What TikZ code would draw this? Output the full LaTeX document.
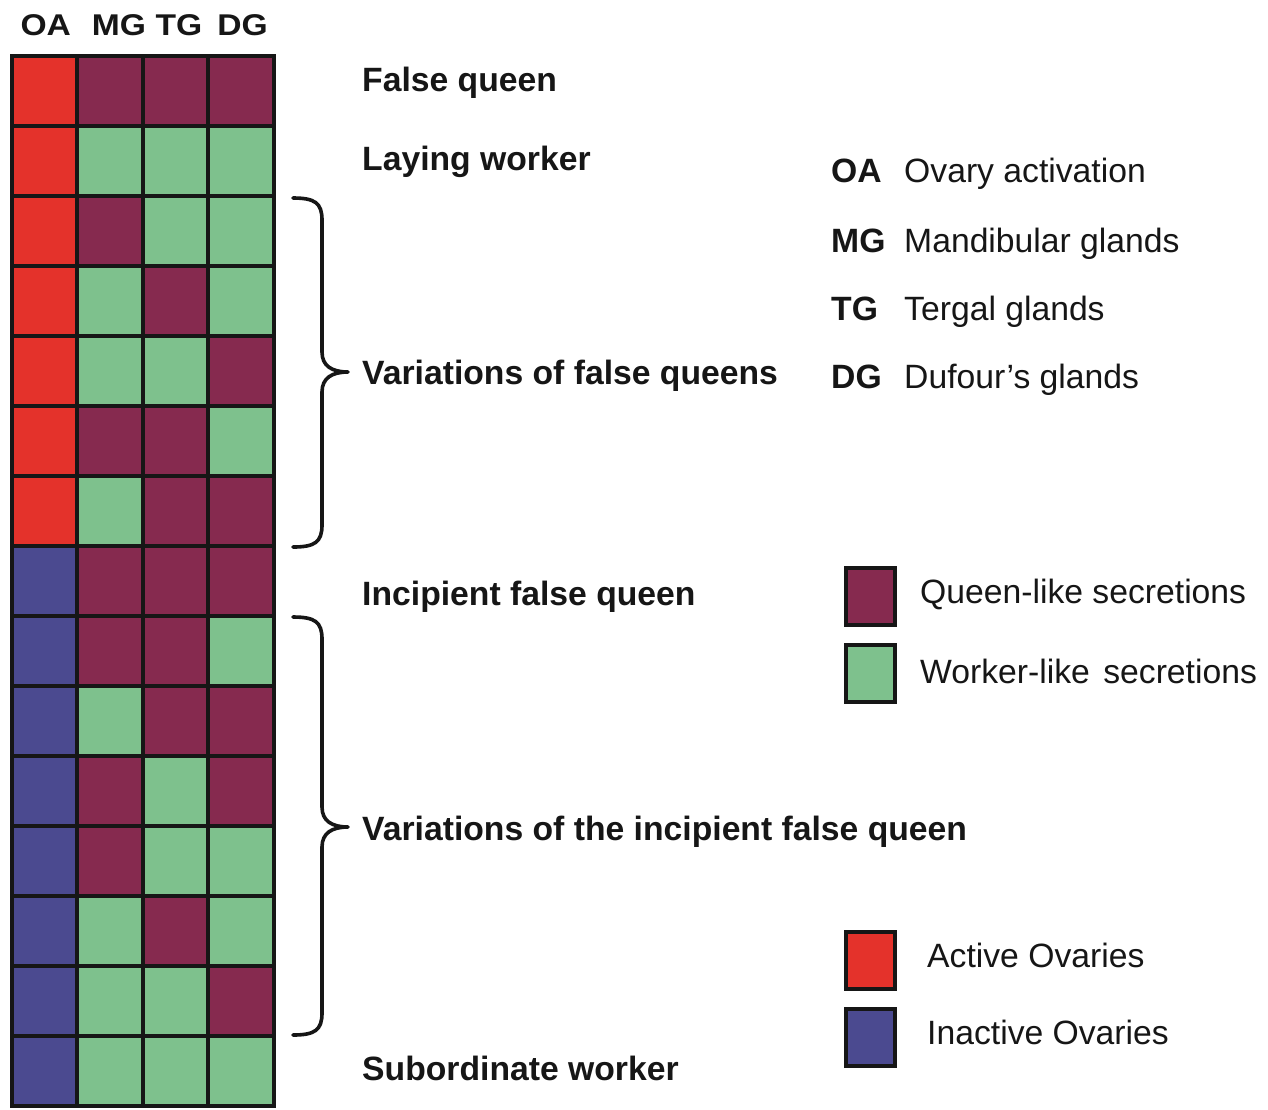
\documentclass[tikz,border=0pt]{standalone}
\usepackage{fontspec}
\usepackage{graphicx}
\setmainfont{Liberation Sans}
\definecolor{colR}{HTML}{E4322B}
\definecolor{colQ}{HTML}{862A4F}
\definecolor{colW}{HTML}{7EC18D}
\definecolor{colB}{HTML}{4B4A90}
\definecolor{ink}{HTML}{161616}
\newcommand{\hdrtext}[1]{\scalebox{1.12}[1]{#1}}
\begin{document}
\begin{tikzpicture}[x=1pt,y=-1pt,
  cell/.style={draw=ink, line width=4pt, minimum width=65.5pt, minimum height=70pt, inner sep=0pt, outer sep=0pt},
  legbox/.style={draw=ink, line width=4pt, minimum width=49pt, minimum height=57pt, inner sep=0pt, outer sep=0pt},
  lbl/.style={font=\fontsize{33.7}{40}\selectfont\bfseries, text=ink, inner sep=0pt, anchor=base west},
  hdr/.style={font=\fontsize{30}{36}\selectfont\bfseries, text=ink, inner sep=0pt, anchor=base},
  legtxt/.style={font=\fontsize{33.7}{40}\selectfont, text=ink, inner sep=0pt, anchor=base west},
  brace/.style={draw=ink, line width=3.6pt, line cap=round, line join=round}]
\useasboundingbox (0,0) rectangle (1268,1109);
\fill[white] (0,0) rectangle (1268,1109);

% headers
\node[hdr] (hOA) at (45.7,35.5) {\hdrtext{OA}};
\node[hdr] (hMG) at (119,35.5) {\hdrtext{MG}};
\node[hdr] (hTG) at (179,35.5) {\hdrtext{TG}};
\node[hdr] (hDG) at (242.5,35.5) {\hdrtext{DG}};

% grid
\foreach \row [count=\i from 0] in {{R,Q,Q,Q},{R,W,W,W},{R,Q,W,W},{R,W,Q,W},{R,W,W,Q},{R,Q,Q,W},{R,W,Q,Q},{B,Q,Q,Q},{B,Q,Q,W},{B,W,Q,Q},{B,Q,W,Q},{B,Q,W,W},{B,W,Q,W},{B,W,W,Q},{B,W,W,W}} {
  \foreach \c [count=\j from 0] in \row {
    \node[cell, fill=col\c] (cell-\i-\j) at ({11.5+65.5*\j+32.75},{56+70*\i+35}) {};
  }
}

% row labels
\node[lbl] (lFQ) at (362,91) {False queen};
\node[lbl] (lLW) at (362,170) {Laying worker};
\node[lbl] (lVFQ) at (362,384) {Variations of false queens};
\node[lbl] (lIFQ) at (362,605) {Incipient false queen};
\node[lbl] (lVIFQ) at (362,840) {Variations of the incipient false queen};
\node[lbl] (lSW) at (362,1080) {Subordinate worker};

% braces
\coordinate (b1top) at (293,198);
\coordinate (b1tip) at (348,372);
\coordinate (b1bot) at (293,547);
\draw[brace] (b1top) .. controls (315,198) and (322,203) .. (322,220) -- (322,352)
  .. controls (322,366) and (332,372) .. (b1tip)
  .. controls (332,372) and (322,378) .. (322,392) -- (322,525)
  .. controls (322,542) and (315,547) .. (b1bot);
\coordinate (b2top) at (293,617);
\coordinate (b2tip) at (348,827);
\coordinate (b2bot) at (293,1035);
\draw[brace] (b2top) .. controls (315,617) and (322,622) .. (322,639) -- (322,807)
  .. controls (322,821) and (332,827) .. (b2tip)
  .. controls (332,827) and (322,833) .. (322,847) -- (322,1013)
  .. controls (322,1030) and (315,1035) .. (b2bot);

% abbreviation legend
\node[lbl] (kOA) at (831,182) {OA};
\node[legtxt] (tOA) at (904,182) {Ovary activation};
\node[lbl] (kMG) at (831,252) {MG};
\node[legtxt] (tMG) at (904,252) {Mandibular glands};
\node[lbl] (kTG) at (831,320) {TG};
\node[legtxt] (tTG) at (904,320) {Tergal glands};
\node[lbl] (kDG) at (831,388) {DG};
\node[legtxt] (tDG) at (904,388) {Dufour’s glands};

% colour legend
\node[legbox, fill=colQ] (sQ) at (870.5,596) {};
\node[legtxt] (tQ) at (920,603) {Queen-like secretions};
\node[legbox, fill=colW] (sW) at (870.5,673) {};
\node[legtxt] (tW) at (920,683) {Worker-like\hspace{0.12em} secretions};
\node[legbox, fill=colR] (sR) at (870.5,960) {};
\node[legtxt] (tR) at (927,967) {Active Ovaries};
\node[legbox, fill=colB] (sB) at (870.5,1037.5) {};
\node[legtxt] (tB) at (927,1044) {Inactive Ovaries};
\end{tikzpicture}
\end{document}
